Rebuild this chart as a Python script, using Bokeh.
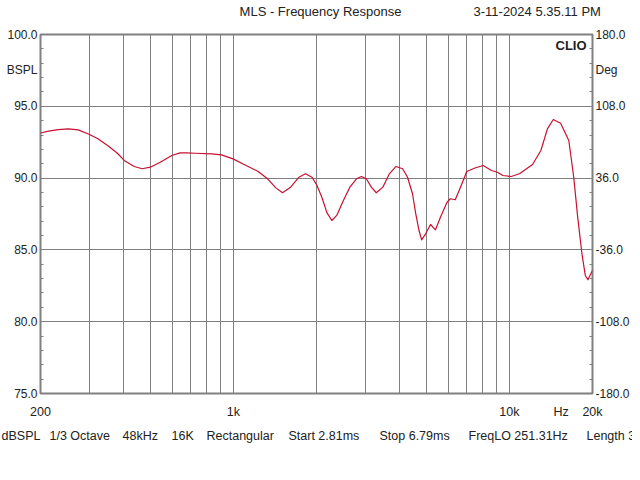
from bokeh.plotting import figure
from bokeh.layouts import column
from bokeh.models import Range1d, LinearAxis, FixedTicker, Label
from bokeh.embed import file_html
from bokeh.resources import INLINE

# ---- data ----
freq_hz = [200, 214, 232, 252, 274, 297, 323, 350, 380, 402,
           437, 467, 500, 543, 598, 641, 677, 727, 834, 905,
           997, 1098, 1225, 1330, 1425, 1506, 1612, 1728, 1824, 1927,
           2008, 2093, 2181, 2273, 2368, 2503, 2642, 2793, 2910, 3032,
           3160, 3293, 3479, 3673, 3882, 4102, 4275, 4455, 4578, 4704,
           4809, 4970, 5179, 5397, 5624, 5943, 6107, 6364, 6632, 7007,
           7504, 8037, 8611, 9046, 9474, 10153, 10873, 12130, 13003, 13729,
           14422, 15326, 16412, 17102, 17676, 18312, 18834, 19242, 19722, 20000]
spl_db = [93.14, 93.27, 93.38, 93.43, 93.36, 93.09, 92.74, 92.27, 91.73, 91.23,
          90.81, 90.65, 90.76, 91.11, 91.57, 91.76, 91.76, 91.73, 91.69, 91.62,
          91.34, 90.93, 90.48, 89.95, 89.32, 88.98, 89.37, 90.06, 90.30, 90.06,
          89.48, 88.65, 87.60, 87.05, 87.40, 88.44, 89.37, 89.95, 90.11, 89.95,
          89.37, 88.98, 89.37, 90.30, 90.81, 90.65, 90.06, 88.91, 87.51, 86.35,
          85.70, 86.12, 86.77, 86.40, 87.28, 88.32, 88.56, 88.49, 89.31, 90.46,
          90.70, 90.88, 90.53, 90.41, 90.18, 90.11, 90.30, 90.95, 91.92, 93.43,
          94.08, 93.82, 92.62, 90.06, 87.28, 84.73, 83.22, 82.92, 83.34, 83.57]

spl_ticks = [75, 80, 85, 90, 95, 97.5, 100]
spl_tick_labels = ["75.0", "80.0", "85.0", "90.0", "95.0", "BSPL", "100.0"]
spl_minor = [76, 77, 78, 79, 81, 82, 83, 84, 86, 87, 88, 89, 91, 92, 93, 94, 96, 97, 98, 99]
spl_grid = [80, 85, 90, 95]

deg_ticks = [-180, -108, -36, 36, 108, 144, 180]
deg_tick_labels = ["-180.0", "-108.0", "-36.0", "36.0", "108.0", "Deg", "180.0"]

freq_ticks = [200, 1000, 10000, 15400, 20000]
freq_tick_labels = ["200", "1k", "10k", "Hz", "20k"]
freq_grid = [300, 400, 500, 600, 700, 800, 900, 1000,
             2000, 3000, 4000, 5000, 6000, 7000, 8000, 9000, 10000]

title_text = "MLS - Frequency Response"
date_text = "3-11-2024 5.35.11 PM"
footer_items = ["dBSPL", "1/3 Octave", "48kHz", "16K", "Rectangular",
                "Start 2.81ms", "Stop 6.79ms", "FreqLO 251.31Hz", "Length 3.98ms"]

FONT = "Liberation Sans"
TXT = "#222222"
GRID = "#808080"
W = 632


def text_strip(height):
    f = figure(width=W, height=height, x_range=Range1d(0, W), y_range=Range1d(height, 0),
               x_axis_location=None, y_axis_location=None,
               min_border=0, min_border_left=0, min_border_right=0,
               min_border_top=0, min_border_bottom=0,
               output_backend="svg", toolbar_location=None,
               background_fill_color="white", border_fill_color="white")
    f.frame_align = False
    f.outline_line_color = None
    f.grid.visible = False
    return f


def lab(fig, x, y, text, align="left", size="12.5px", style="normal"):
    fig.add_layout(Label(x=x, y=y, text=text, text_font=FONT, text_font_size=size,
                         text_color=TXT, text_align=align, text_baseline="middle",
                         text_font_style=style))


# ---- header ----
head = text_strip(26)
lab(head, 320, 11, title_text, align="center", size="13px")
lab(head, 473, 11, date_text, size="13px")

# ---- main plot ----
p = figure(width=W, height=397, x_axis_type="log",
           x_range=Range1d(200, 20000), y_range=Range1d(75, 100),
           output_backend="svg", toolbar_location=None,
           min_border_left=40, min_border_right=40,
           min_border_top=8, min_border_bottom=30,
           background_fill_color="white", border_fill_color="white")
p.frame_align = False
p.extra_y_ranges = {"deg": Range1d(-180, 180)}
p.outline_line_color = GRID
p.outline_line_width = 2

p.xgrid.ticker = FixedTicker(ticks=freq_grid)
p.ygrid.ticker = FixedTicker(ticks=spl_grid)
for g in (p.xgrid, p.ygrid):
    g.grid_line_color = GRID
    g.grid_line_width = 1
    g.grid_line_alpha = 1.0

ya = p.yaxis[0]
ya.ticker = FixedTicker(ticks=spl_ticks, minor_ticks=spl_minor)
ya.major_label_overrides = {t: s for t, s in zip(spl_ticks, spl_tick_labels)}

xa = p.xaxis[0]
xa.ticker = FixedTicker(ticks=freq_ticks)
xa.major_label_overrides = {t: s for t, s in zip(freq_ticks, freq_tick_labels)}

deg_minor = [-180 + 14.4 * i for i in range(26) if i % 5 != 0]
ra = LinearAxis(y_range_name="deg",
                ticker=FixedTicker(ticks=deg_ticks, minor_ticks=deg_minor))
ra.major_label_overrides = {t: s for t, s in zip(deg_ticks, deg_tick_labels)}
p.add_layout(ra, "right")

for ax in (ya, xa, ra):
    ax.axis_line_color = None
    ax.major_tick_line_color = None
    ax.major_tick_in = 0
    ax.major_tick_out = 0
    ax.minor_tick_line_color = GRID
    ax.minor_tick_in = 3
    ax.minor_tick_out = 0
    ax.major_label_text_font = FONT
    ax.major_label_text_font_size = "12px"
    ax.major_label_text_color = TXT
xa.minor_tick_line_color = None
xa.major_label_standoff = 11
xa.major_label_text_font_size = "12.5px"
ya.major_label_standoff = 3
ra.major_label_standoff = 3

p.line(freq_hz, spl_db, line_color="#c81030", line_width=1.2, line_join="round")

p.add_layout(Label(x=19030, y=99.23, text="CLIO", text_font=FONT, text_font_size="13px",
                   text_color=TXT, text_align="right", text_baseline="middle",
                   text_font_style="bold"))

# ---- footer ----
foot = text_strip(41)
footer_x = [1, 49, 122, 171, 206, 288, 379, 468, 586]
for t, fx in zip(footer_items, footer_x):
    lab(foot, fx, 12, t)

layout = column(head, p, foot, spacing=0)
open("out.html", "w").write(file_html(layout, INLINE))
